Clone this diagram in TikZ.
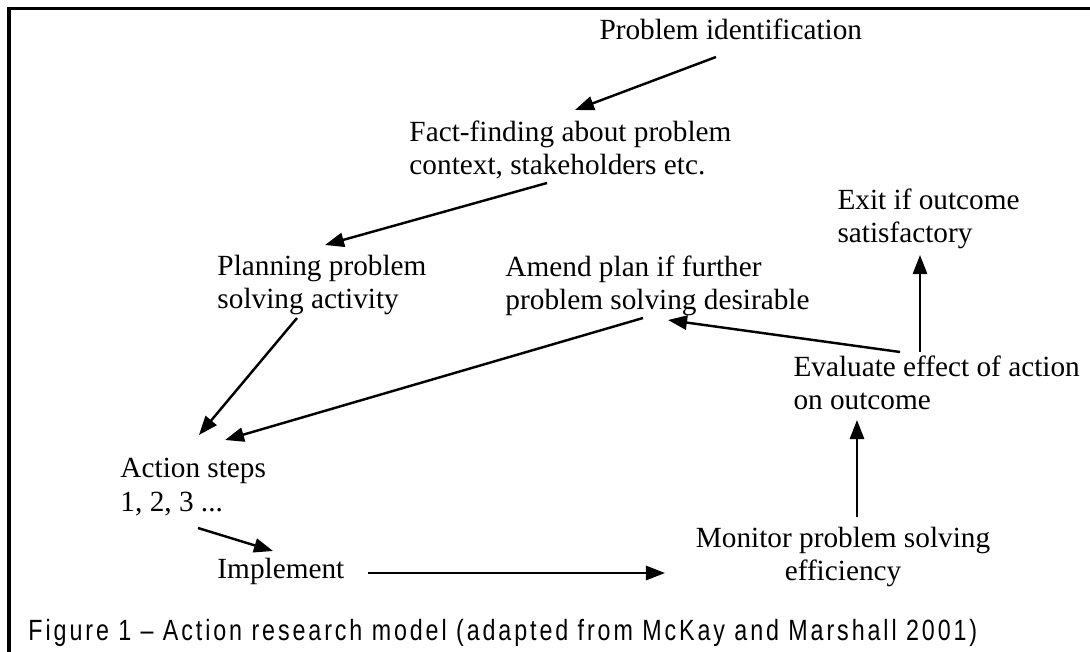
\documentclass[tikz,border=0pt]{standalone}
\usepackage{fontspec}
\setmainfont{Liberation Serif}
\newfontfamily\capfont[FakeStretch=0.8,LetterSpace=10]{Liberation Sans}
\usetikzlibrary{positioning, arrows.meta}

\begin{document}
\begin{tikzpicture}[
      x=0.41pt, y=-0.41pt,
      font=\fontsize{12pt}{13.6pt}\selectfont,
      >={Triangle[length=7.8pt,width=5.8pt]},
      lbl/.style={inner sep=0pt, align=left},
      flow/.style={->, line width=1pt},
      frame/.style={line width=1.3pt},
      capt/.style={inner sep=0pt, font=\capfont\fontsize{12pt}{14pt}\selectfont}
  ]
    \useasboundingbox (0,0) rectangle (1090,652);
    \draw[frame] (9,652) |- (1090,8.5);

    \node[lbl, anchor=base west] (prob) at (599,40) {Problem identification};
    \node[lbl, anchor=north west] (fact) at (409,120)
      {Fact-finding about problem\\context, stakeholders etc.};
    \node[lbl, anchor=north west] (exit) at (837,188)
      {Exit if outcome\\satisfactory};
    \node[lbl, anchor=north west] (plan) at (217,255)
      {Planning problem\\solving activity};
    \node[lbl, anchor=north west] (amend) at (505,255)
      {Amend plan if further\\problem solving desirable};
    \node[lbl, anchor=north west] (eval) at (793,355)
      {Evaluate effect of action\\on outcome};
    \node[lbl, anchor=north west] (act) at (120,458)
      {Action steps\\1, 2, 3 ...};
    \node[lbl, anchor=base west] (impl) at (217,578) {Implement};
    \node[lbl, align=center, anchor=north] (mon) at (843,527)
      {Monitor problem solving\\efficiency};
    \node[capt, anchor=base west] (cap) at (28,640)
      {\resizebox{389pt}{\height}{Figure 1 – Action research model (adapted from McKay and Marshall 2001)}};

    \draw[flow] ([shift={(117,17)}]prob.base west) -- ([shift={(166,-10)}]fact.north west);
    \draw[flow] ([shift={(138,63)}]fact.north west) -- ([shift={(108,-10)}]plan.north west);
    \draw[flow] ([shift={(80,63)}]plan.north west) -- ([shift={(79,-23)}]act.north west);
    \draw[flow] ([shift={(138,63)}]amend.north west) -- ([shift={(105,-18)}]act.north west);
    \draw[flow] ([shift={(107,-3)}]eval.north west) -- ([shift={(163,65)}]amend.north west);
    \draw[flow] ([shift={(127,-3)}]eval.north west) -- ([shift={(83,67)}]exit.north west);
    \draw[flow] ([shift={(14,-10)}]mon.north) -- ([shift={(64,65)}]eval.north west);
    \draw[flow] ([shift={(78,70)}]act.north west) -- ([shift={(56,-27)}]impl.base west);
    \draw[flow] ([shift={(151,-5)}]impl.base west) -- ([shift={(-178,46)}]mon.north);
  \end{tikzpicture}
\end{document}
